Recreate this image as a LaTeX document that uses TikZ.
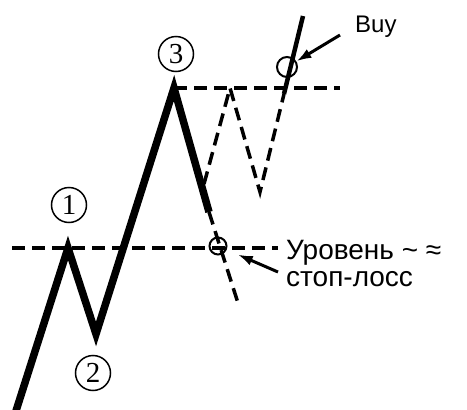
\documentclass[tikz,border=0pt]{standalone}
\usepackage{fontspec}
\setmainfont{Liberation Sans}
\newfontfamily\zifferfont{Liberation Serif}
\usetikzlibrary{arrows.meta}
\tikzset{
  kurs/.style={line width=7.5pt},
  linie/.style={line width=3.5pt, dash pattern=on 13pt off 7pt},
  pfeil/.style={line width=3pt, -{Latex[length=15pt,width=10pt]}},
  ziffer/.style={circle, draw, line width=1.5pt, minimum size=35pt, inner sep=0pt, font=\zifferfont\fontsize{29}{29}\selectfont},
  marke/.style={circle, draw, line width=2pt, inner sep=0pt},
  schrift/.style={anchor=base west, inner sep=0pt, font=\fontsize{28}{27}\selectfont}
}
\begin{document}
\begin{tikzpicture}
    \useasboundingbox (0pt,0pt) rectangle (467pt,-410pt);                 % Rahmen
    \coordinate (a)  at (15pt,-414pt);                                    % Start
    \coordinate (p1) at (68pt,-248pt);                                    % Hoch 1
    \coordinate (p2) at (96pt,-334pt);                                    % Tief 2
    \coordinate (p3) at (174pt,-88pt);                                    % Hoch 3
    \coordinate (e)  at (209pt,-212pt);                                   % Ende Kurs
    \coordinate (f)  at (238pt,-303pt);                                   % Ende Abbruch
    \coordinate (b)  at (204pt,-184pt);                                   % Abzweig
    \coordinate (w1) at (230pt,-88pt);
    \coordinate (w2) at (260pt,-192pt);
    \coordinate (w3) at (284pt,-94pt);
    \coordinate (w4) at (303pt,-16pt);                                    % Ausbruch
    \coordinate (h1) at (12pt,-248pt);                                    % Linie 1
    \coordinate (h1e) at (278pt,-248pt);
    \coordinate (h3e) at (340pt,-88pt);                                   % Linie 3
    \coordinate (kt) at (340pt,-35pt);                                    % Pfeil Buy
    \coordinate (st) at (278pt,-272pt);                                   % Pfeil Stop
    \draw[linie] (h1) -- (h1e);                                           % Niveau 1
    \draw[linie] (p3) -- (h3e);                                           % Niveau 3
    \draw[linie] (e) -- (f);                                              % Abbruch
    \draw[linie] (b) -- (w1) -- (w2) -- (w3);                             % Variante
    \draw[line width=4.5pt] (w3) -- (w4);                                 % Ausbruch
    \draw[kurs] (a) -- (p1) -- (p2) -- (p3) -- (e);                       % Kurs
    \node[marke, minimum size=20pt] (kauf) at (287pt,-67pt) {};           % Kaufpunkt
    \node[marke, minimum size=17pt] (stop) at (218pt,-246pt) {};          % Stoppunkt
    \node[ziffer] (n1) at (69pt,-205pt) {1};
    \node[ziffer] (n2) at (93pt,-373pt) {2};
    \node[ziffer] (n3) at (176pt,-54pt) {3};
    \node[schrift, font=\fontsize{24}{24}\selectfont] (buy) at (355pt,-32pt) {Buy};
    \node[schrift, align=left] (lvl) at (286pt,-286pt) {Уровень \string~ ≈\\стоп-лосс};
    \draw[pfeil] (kt) -- (kauf);                                          % Pfeil Buy
    \draw[pfeil, shorten >=12pt] (st) -- (stop);                          % Pfeil Stop
\end{tikzpicture}
\end{document}
